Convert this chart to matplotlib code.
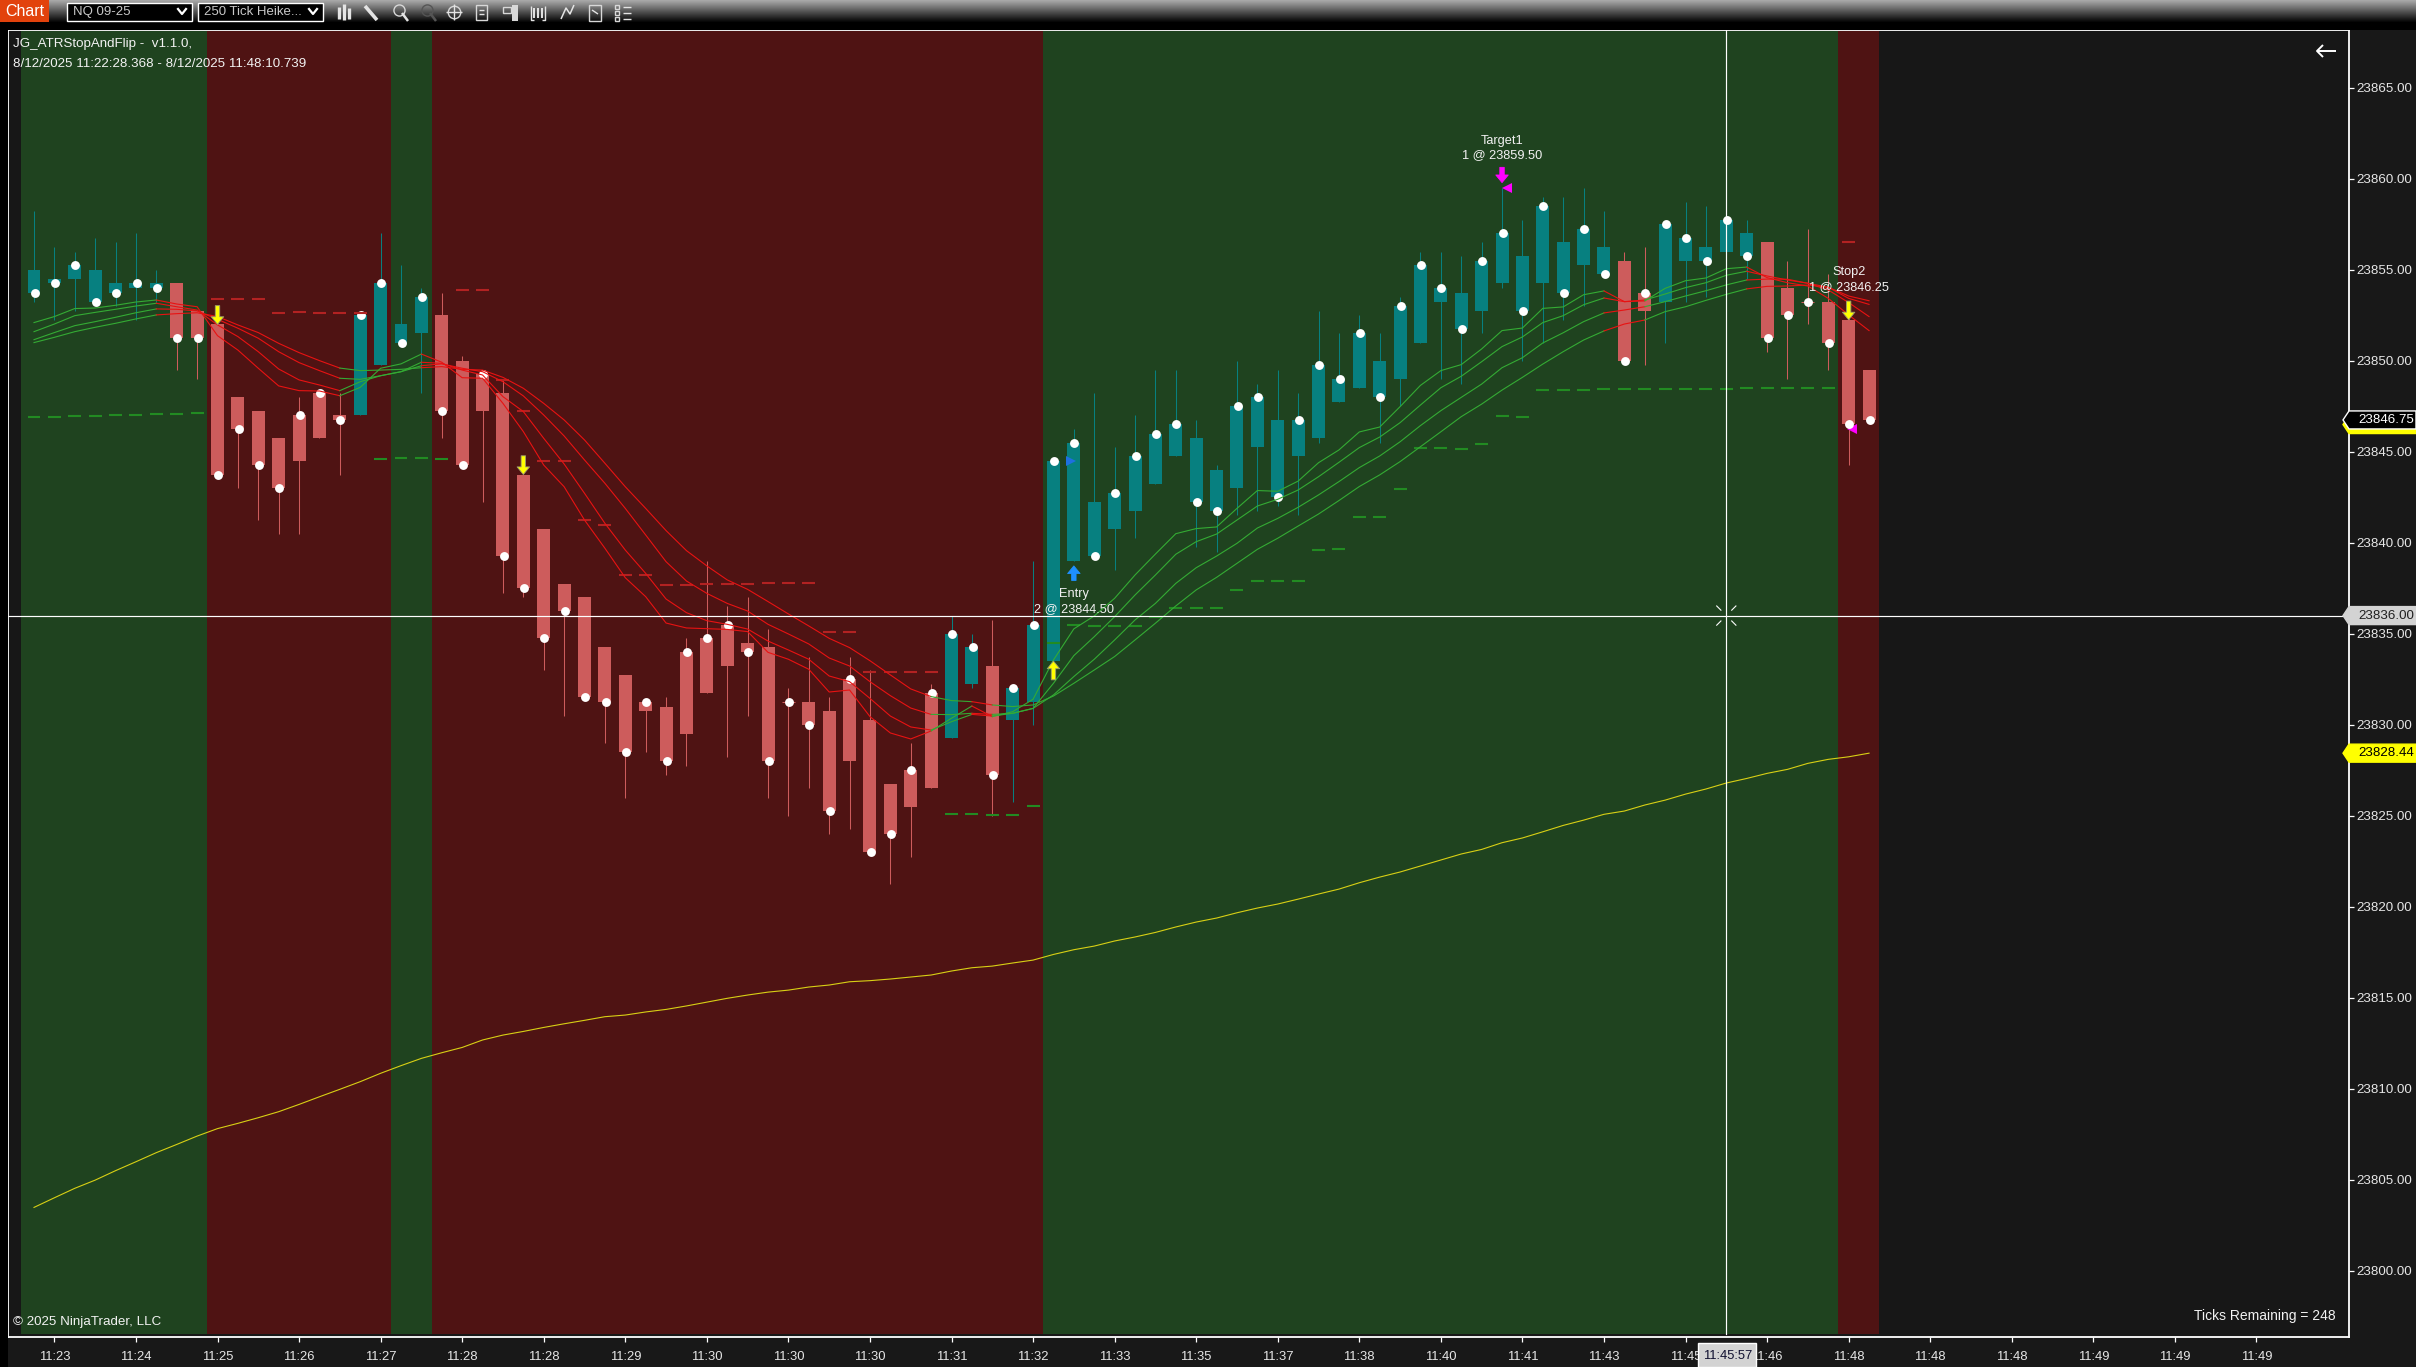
import matplotlib
matplotlib.use('Agg')
import matplotlib.pyplot as plt
import numpy as np
from matplotlib.patches import Polygon, Rectangle

plt.rcParams['font.family'] = ['Liberation Sans', 'DejaVu Sans']

# prices are stored above this base
price_base = 23800

body_top = [55.0, 54.5, 55.25, 55.0, 54.25, 54.25, 54.25, 54.25, 52.75, 52.0,
            48.0, 47.25, 45.75, 47.0, 48.25, 47.0, 52.5, 54.25, 52.0, 53.5,
            52.5, 50.0, 49.25, 48.25, 43.75, 40.75, 37.75, 37.0, 34.25, 32.75,
            31.25, 31.0, 34.0, 34.75, 35.5, 34.5, 34.25, 31.25, 31.25, 30.75,
            32.5, 30.25, 26.75, 27.5, 31.75, 35.0, 34.25, 33.25, 32.0, 35.5,
            44.5, 45.5, 42.25, 42.75, 44.75, 46.0, 46.5, 45.75, 44.0, 47.5,
            48.0, 46.75, 46.75, 49.75, 49.0, 51.5, 50.0, 53.0, 55.25, 54.0,
            53.75, 55.5, 57.0, 55.75, 58.5, 56.5, 57.25, 56.25, 55.5, 53.75,
            57.5, 56.75, 56.25, 57.75, 57.0, 56.5, 54.0, 53.25, 53.25, 52.25,
            49.5]
body_bottom = [53.75, 54.25, 54.5, 53.25, 53.75, 54.0, 54.0, 51.25, 51.25, 43.75,
               46.25, 44.25, 43.0, 44.5, 45.75, 46.75, 47.0, 49.75, 51.0, 51.5,
               47.25, 44.25, 47.25, 39.25, 37.5, 34.75, 36.25, 31.5, 31.25, 28.5,
               30.75, 28.0, 29.5, 31.75, 33.25, 34.0, 28.0, 31.25, 30.0, 25.25,
               28.0, 23.0, 24.0, 25.5, 26.5, 29.25, 32.25, 27.25, 30.25, 31.25,
               33.5, 39.0, 39.25, 40.75, 41.75, 43.25, 44.75, 42.25, 41.75, 43.0,
               45.25, 42.5, 44.75, 45.75, 47.75, 48.5, 48.0, 49.0, 51.0, 53.25,
               51.75, 52.75, 54.25, 52.75, 54.25, 53.75, 55.25, 54.75, 50.0, 52.75,
               53.25, 55.5, 55.5, 56.0, 55.75, 51.25, 52.5, 53.25, 51.0, 46.5,
               46.75]
bar_high = [58.25, 56.25, 56.0, 56.75, 56.5, 57.0, 55.0, 54.25, 52.75, 52.0,
            48.0, 47.25, 45.75, 48.0, 48.25, 48.25, 52.5, 57.0, 55.25, 54.0,
            53.75, 50.25, 49.5, 49.0, 43.75, 40.75, 37.75, 37.0, 34.25, 32.75,
            31.25, 31.5, 34.75, 39.0, 36.5, 37.0, 35.25, 32.0, 33.75, 31.5,
            33.75, 33.0, 26.75, 29.0, 32.25, 36.0, 35.0, 35.75, 32.0, 39.0,
            44.5, 46.25, 48.25, 45.25, 47.0, 49.5, 49.5, 46.75, 44.25, 50.0,
            48.75, 49.5, 48.25, 52.75, 51.5, 52.5, 51.5, 53.5, 56.0, 56.0,
            55.75, 56.5, 59.5, 57.75, 59.0, 59.0, 59.5, 58.25, 56.0, 56.25,
            57.5, 58.75, 58.5, 57.75, 57.75, 56.5, 55.5, 57.25, 54.75, 53.25,
            49.5]
bar_low = [53.25, 52.25, 52.75, 53.25, 53.0, 52.25, 53.25, 49.5, 49.0, 43.75,
           43.0, 41.25, 40.5, 40.5, 45.75, 43.75, 47.0, 49.75, 51.0, 48.25,
           45.75, 44.25, 42.25, 37.25, 37.0, 33.0, 30.5, 31.5, 29.0, 26.0,
           28.5, 27.25, 27.75, 31.75, 28.25, 30.5, 26.0, 25.0, 26.5, 24.0,
           24.25, 23.0, 21.25, 22.75, 26.5, 29.25, 32.0, 25.0, 25.75, 30.0,
           33.5, 39.0, 39.25, 38.5, 40.25, 43.25, 44.75, 39.75, 39.5, 41.5,
           41.75, 42.0, 41.5, 45.5, 47.75, 48.5, 45.5, 47.5, 51.0, 49.0,
           48.75, 51.5, 54.0, 50.0, 51.0, 52.25, 53.0, 54.75, 50.0, 49.75,
           51.0, 53.25, 53.5, 56.0, 54.5, 50.5, 49.0, 52.0, 49.5, 44.25,
           46.75]
bar_dot = [53.75, 54.25, 55.25, 53.25, 53.75, 54.25, 54.0, 51.25, 51.25, 43.75,
           46.25, 44.25, 43.0, 47.0, 48.25, 46.75, 52.5, 54.25, 51.0, 53.5,
           47.25, 44.25, 49.25, 39.25, 37.5, 34.75, 36.25, 31.5, 31.25, 28.5,
           31.25, 28.0, 34.0, 34.75, 35.5, 34.0, 28.0, 31.25, 30.0, 25.25,
           32.5, 23.0, 24.0, 27.5, 31.75, 35.0, 34.25, 27.25, 32.0, 35.5,
           44.5, 45.5, 39.25, 42.75, 44.75, 46.0, 46.5, 42.25, 41.75, 47.5,
           48.0, 42.5, 46.75, 49.75, 49.0, 51.5, 48.0, 53.0, 55.25, 54.0,
           51.75, 55.5, 57.0, 52.75, 58.5, 53.75, 57.25, 54.75, 50.0, 53.75,
           57.5, 56.75, 55.5, 57.75, 55.75, 51.25, 52.5, 53.25, 51.0, 46.5,
           46.75]
teal_bars = list(range(0, 7)) + list(range(16, 20)) + [45, 46] + list(range(48, 78)) + list(range(80, 85))

# four moving averages, fastest first
ma_1 = [52.10, 52.43, 52.87, 52.90, 53.05, 53.23, 53.34, 53.12, 52.97, 51.38,
        50.59, 49.59, 48.62, 48.36, 48.34, 48.08, 48.54, 49.59, 49.83, 50.37,
        49.92, 49.07, 49.04, 47.66, 46.11, 44.27, 43.08, 41.25, 39.70, 38.08,
        37.04, 35.59, 35.32, 35.28, 35.24, 35.12, 33.98, 33.60, 33.05, 31.80,
        31.91, 30.45, 29.55, 29.22, 29.66, 30.36, 31.03, 30.45, 30.72, 31.40,
        33.56, 35.27, 35.98, 36.95, 38.23, 39.38, 40.50, 40.78, 40.87, 41.89,
        42.87, 42.83, 43.39, 44.40, 45.10, 46.09, 46.36, 47.48, 48.65, 49.46,
        49.79, 50.65, 51.66, 51.80, 52.88, 52.96, 53.63, 53.84, 53.25, 53.29,
        53.98, 54.40, 54.55, 55.06, 55.15, 54.57, 54.29, 54.11, 53.43, 52.52,
        51.66]
ma_2 = [51.60, 52.02, 52.48, 52.66, 52.83, 53.01, 53.16, 52.97, 52.79, 51.97,
        51.33, 50.50, 49.55, 48.95, 48.67, 48.36, 48.85, 49.18, 49.40, 49.92,
        49.86, 49.49, 49.22, 48.03, 47.21, 45.74, 44.33, 42.72, 41.07, 39.60,
        38.32, 36.91, 36.16, 35.72, 35.52, 35.26, 34.60, 34.11, 33.60, 32.68,
        32.37, 31.45, 30.48, 29.88, 29.71, 30.17, 30.57, 30.48, 30.63, 30.90,
        32.28, 33.80, 34.84, 35.94, 37.13, 38.23, 39.37, 40.06, 40.48, 41.25,
        42.02, 42.39, 42.90, 43.63, 44.42, 45.23, 45.81, 46.60, 47.57, 48.52,
        49.15, 49.95, 50.78, 51.31, 52.10, 52.48, 53.08, 53.45, 53.25, 53.34,
        53.67, 54.02, 54.29, 54.70, 54.92, 54.66, 54.44, 54.26, 53.89, 53.20,
        52.43]
ma_3 = [51.16, 51.55, 51.93, 52.15, 52.39, 52.64, 52.85, 52.83, 52.74, 52.28,
        51.79, 51.24, 50.50, 49.90, 49.46, 49.04, 48.98, 49.18, 49.40, 49.73,
        49.83, 49.59, 49.40, 48.85, 48.07, 47.02, 45.87, 44.55, 43.27, 41.89,
        40.43, 38.96, 37.90, 37.22, 36.67, 36.25, 35.52, 34.99, 34.44, 33.67,
        33.23, 32.37, 31.60, 30.92, 30.57, 30.56, 30.63, 30.57, 30.63, 30.90,
        31.64, 32.65, 33.60, 34.66, 35.76, 36.67, 37.77, 38.63, 39.27, 39.97,
        40.81, 41.34, 41.95, 42.63, 43.36, 44.13, 44.77, 45.55, 46.44, 47.26,
        47.99, 48.72, 49.62, 50.17, 50.98, 51.54, 52.15, 52.63, 52.79, 52.97,
        53.25, 53.56, 53.85, 54.17, 54.44, 54.49, 54.48, 54.26, 54.04, 53.43,
        53.10]
ma_4 = [51.00, 51.29, 51.60, 51.84, 52.06, 52.30, 52.52, 52.59, 52.64, 52.43,
        51.97, 51.55, 50.96, 50.45, 50.01, 49.60, 49.46, 49.49, 49.53, 49.62,
        49.68, 49.53, 49.49, 49.09, 48.49, 47.66, 46.75, 45.65, 44.37, 43.08,
        41.89, 40.67, 39.57, 38.73, 37.96, 37.44, 36.77, 36.09, 35.43, 34.75,
        34.24, 33.52, 32.74, 31.97, 31.55, 31.33, 31.27, 31.09, 31.00, 31.09,
        31.58, 32.28, 33.01, 33.75, 34.66, 35.58, 36.53, 37.41, 38.10, 38.87,
        39.64, 40.25, 40.92, 41.58, 42.32, 43.09, 43.73, 44.46, 45.28, 46.10,
        46.93, 47.62, 48.39, 49.09, 49.82, 50.50, 51.14, 51.64, 52.02, 52.24,
        52.70, 52.97, 53.32, 53.65, 53.95, 54.09, 54.11, 54.16, 54.04, 53.56,
        53.30]
# slow yellow average
slow_ma = [3.48, 4.01, 4.53, 4.98, 5.50, 5.99, 6.49, 6.94, 7.40, 7.81,
           8.10, 8.41, 8.74, 9.14, 9.56, 9.97, 10.39, 10.85, 11.27, 11.67,
           11.98, 12.27, 12.68, 12.95, 13.15, 13.37, 13.57, 13.76, 13.96, 14.05,
           14.22, 14.36, 14.55, 14.76, 14.97, 15.15, 15.31, 15.42, 15.59, 15.70,
           15.88, 15.94, 16.03, 16.14, 16.25, 16.47, 16.65, 16.74, 16.91, 17.07,
           17.38, 17.64, 17.84, 18.12, 18.34, 18.59, 18.89, 19.16, 19.38, 19.67,
           19.93, 20.15, 20.42, 20.70, 20.97, 21.32, 21.63, 21.91, 22.24, 22.57,
           22.90, 23.15, 23.52, 23.78, 24.12, 24.47, 24.76, 25.08, 25.26, 25.59,
           25.86, 26.19, 26.47, 26.80, 27.05, 27.33, 27.55, 27.88, 28.10, 28.24,
           28.44]

# ATR stop dashes, one per bar
long_stop_bars = list(range(0, 9)) + [17, 18, 19, 20] + list(range(45, 89))
long_stop = [46.9, 46.9, 46.97, 46.97, 47.02, 47.02, 47.08, 47.08, 47.13,
             44.60, 44.66, 44.66, 44.60,
             25.10, 25.10, 25.04, 25.04, 25.54, 34.49, 35.48, 35.43, 35.43, 35.43,
             35.92, 36.42, 36.42, 36.42, 37.41, 37.90, 37.90, 37.90, 39.60, 39.66,
             41.42, 41.42, 42.96, 45.21, 45.21, 45.15, 45.43, 46.97, 46.93,
             48.39, 48.39, 48.39, 48.45, 48.45, 48.45, 48.45, 48.45, 48.45, 48.45,
             48.50, 48.50, 48.50, 48.50, 48.50]
short_stop_bars = list(range(9, 17)) + list(range(21, 45)) + [89]
short_stop = [53.40, 53.40, 53.40, 52.63, 52.68, 52.63, 52.63, 52.63,
              53.89, 53.89, 48.95, 47.24, 44.50, 44.50, 41.25, 40.98, 38.23, 38.23,
              37.68, 37.68, 37.74, 37.74, 37.74, 37.79, 37.79, 37.79, 35.10, 35.10,
              32.90, 32.90, 32.90, 32.90,
              56.55]

# background regime and which colour the averages take, by bar
band_edges = [-0.62, 8.5, 17.5, 19.5, 49.5, 88.47, 90.5]
band_kinds = ['up', 'down', 'up', 'down', 'up', 'down']
ma_segments = [(0, 6, 'up'), (6, 15, 'down'), (15, 19, 'up'), (19, 44, 'down'), (44, 46, 'up'),
               (46, 47, 'down'), (47, 77, 'up'), (77, 79, 'down'), (79, 84, 'up'), (84, 90, 'down')]

# tick labels
time_tick_bars = list(range(1, 110, 4))
time_labels = ['11:23', '11:24', '11:25', '11:26', '11:27', '11:28', '11:28', '11:29', '11:30', '11:30',
               '11:30', '11:31', '11:32', '11:33', '11:35', '11:37', '11:38', '11:40', '11:41', '11:43',
               '11:45', '11:46', '11:48', '11:48', '11:48', '11:49', '11:49', '11:49']
price_ticks = list(range(23800, 23870, 5))

# crosshair and fills
cross_bar = 83
cross_price = 23836.0
last_price = 23846.75
stop_price = 23846.25
slow_ma_last = 23828.44
sig_down_bars = [(9, 52.0), (24, 43.75), (89, 52.25)]
sig_up_bars = [(50, 33.5)]

BG = '#181818'
GREEN_BAND = '#1f431f'
RED_BAND = '#4f1313'
TEAL = '#078080'
CANDLE_RED = '#cd5c5c'
GREEN_LINE = '#34ab34'
RED_LINE = '#e81212'
WHITE = '#f2f2f2'

W, H = 2416, 1367
fig = plt.figure(figsize=(W / 100, H / 100), dpi=100, facecolor=BG)

# chart frame in pixel units
left, right, top, bottom = 8, 2349, 30, 1337
ax = fig.add_axes([left / W, (H - bottom) / H, (right - left) / W, (bottom - top) / H], facecolor='#171717')
ax.set_xlim(-1.275, 113.54)
ax.set_ylim(23796.36, 23868.176)
for s in ['left', 'right', 'top', 'bottom']:
    ax.spines[s].set_color('white')
    ax.spines[s].set_linewidth(1.3)

for i, kind in enumerate(band_kinds):
    ax.axvspan(band_edges[i], band_edges[i + 1], ymin=0.0023, ymax=0.999, lw=0,
               color=GREEN_BAND if kind == 'up' else RED_BAND, zorder=0)

bars = np.arange(len(body_top))
top_p = price_base + np.array(body_top)
bot_p = price_base + np.array(body_bottom)
high_p = price_base + np.array(bar_high)
low_p = price_base + np.array(bar_low)
is_teal = np.isin(bars, teal_bars)
colors = np.where(is_teal, TEAL, CANDLE_RED)
bar_w = 0.637

ax.vlines(bars, low_p, high_p, colors=colors, lw=0.75, zorder=2)
ax.bar(bars, top_p - bot_p, bottom=bot_p, width=bar_w, color=colors, lw=0, zorder=2.1)
doji = top_p == bot_p
ax.hlines(top_p[doji], bars[doji] - bar_w / 2, bars[doji] + bar_w / 2, colors=CANDLE_RED, lw=0.75, zorder=2.1)
ax.plot(bars + 0.03, price_base + np.array(bar_dot), ls='', marker='o', ms=6.4, mfc='white', mec='white',
        mew=0, zorder=2.5)

# stop dashes
ax.hlines(price_base + np.array(long_stop), np.array(long_stop_bars) - bar_w / 2,
          np.array(long_stop_bars) + bar_w / 2, colors='#228b22', lw=1.5, zorder=2.7)
ax.hlines(price_base + np.array(short_stop), np.array(short_stop_bars) - bar_w / 2,
          np.array(short_stop_bars) + bar_w / 2, colors='#b22222', lw=1.5, zorder=2.7)

# averages change colour with regime
for series in [ma_4, ma_3, ma_2, ma_1]:
    prices = price_base + np.array(series)
    for start, end, kind in ma_segments:
        ax.plot(bars[start:end + 1], prices[start:end + 1], lw=0.8, zorder=3,
                color=GREEN_LINE if kind == 'up' else RED_LINE, solid_joinstyle='miter')

ax.plot(bars, price_base + np.array(slow_ma), color='#d8d015', lw=0.8, zorder=3)


def signal_arrow(bar, price, down, color, edge, length=13.5):
    off = length if down else -length
    ax.annotate('', xy=(bar, price), xytext=(0, off), textcoords='offset points', zorder=5,
                arrowprops=dict(facecolor=color, edgecolor=edge, width=3.2, headwidth=9, headlength=5.5,
                                shrink=0, lw=0.6))


for bar, price in sig_down_bars:
    signal_arrow(bar, price_base + price, True, '#ffff00', '#9a9a70')
for bar, price in sig_up_bars:
    signal_arrow(bar, price_base + price, False, '#ffff00', '#9a9a70')
signal_arrow(51, price_base + 38.73, False, '#1e90ff', '#1e90ff', length=10.5)
signal_arrow(72, price_base + 59.79, True, '#ff00ff', '#ff00ff', length=11)

# fill markers
ax.plot([50.86], [price_base + 44.5], marker='>', ms=7, mfc='#1e70e0', mew=0, ls='', zorder=5)
ax.plot([72.25], [price_base + 59.5], marker='<', ms=7, mfc='#ff00ff', mew=0, ls='', zorder=5)
ax.plot([89.15], [price_base + 46.25], marker='<', ms=7, mfc='#ff00ff', mew=0, ls='', zorder=2)

# trade labels
for bar, y1, y2, name, fill in [(72, 62.08, 61.3, 'Target1', '1 @ 23859.50'),
                                (51, 37.2, 36.37, 'Entry', '2 @ 23844.50'),
                                (89, 54.88, 54.06, 'Stop2', '1 @ 23846.25')]:
    ax.text(bar, price_base + y1, name, color=WHITE, fontsize=9.2, ha='center', va='center', zorder=6)
    ax.text(bar, price_base + y2, fill, color=WHITE, fontsize=9.2, ha='center', va='center', zorder=6)

# crosshair
ax.axvline(cross_bar, ymin=0.0023, color='white', lw=0.85, zorder=4)
ax.axhline(cross_price, color='white', lw=0.85, zorder=4)

ax.set_xticks(time_tick_bars)
ax.set_xticklabels(time_labels)
ax.yaxis.tick_right()
ax.set_yticks(price_ticks)
ax.set_yticklabels([f'{p:.2f}' for p in price_ticks])
ax.tick_params(axis='x', colors='white', labelcolor='#e6e6e6', length=3.6, width=0.9, pad=6.5, labelsize=9.4)
ax.tick_params(axis='y', colors='white', labelcolor='#e6e6e6', length=3.6, width=0.9, pad=2, labelsize=9.6)

# overlay in pixels for window furniture
ov = fig.add_axes([0, 0, 1, 1], facecolor='none')
ov.set_xlim(0, W)
ov.set_ylim(H, 0)
ov.axis('off')


def price_px(p):
    return H - ax.transData.transform((0, p))[1]


def bar_px(b):
    return ax.transData.transform((b, 0))[0]


ov.add_patch(Rectangle((0, 0), 8, H, fc='black', lw=0, zorder=0))
ov.add_patch(Rectangle((0, 23), W, 7, fc='black', lw=0, zorder=0))

# toolbar
grad = np.linspace(0.66, 0.0, 24).reshape(-1, 1)
ov.imshow(grad, extent=(0, W, 23, 0), cmap='gray', vmin=0, vmax=1, aspect='auto', zorder=1)
ov.set_xlim(0, W)
ov.set_ylim(H, 0)
ov.add_patch(Rectangle((0, 0), 49, 22, fc='#e2420c', lw=0, zorder=2))
ov.text(25, 11.5, 'Chart', color='white', fontsize=11.5, ha='center', va='center', zorder=3)
for x0, x1, label in [(67, 192, 'NQ 09-25'), (198, 323, '250 Tick Heike...')]:
    ov.add_patch(Rectangle((x0, 3), x1 - x0, 18, fc='black', ec='white', lw=1.0, zorder=2))
    ov.text(x0 + 6, 12, label, color='#c8c8c8', fontsize=9.5, ha='left', va='center', zorder=3)
    ov.plot([x1 - 14, x1 - 10, x1 - 6], [9, 14, 9], color='white', lw=1.6, zorder=3)


def stroke(xs, ys, c='#e4e4e4', lw=1.0):
    ov.plot(xs, ys, color=c, lw=lw, zorder=3, solid_capstyle='butt')


# icons, roughly
for dx, h0, h1 in [(-5, 7, 19), (0, 4, 20), (5, 8, 19)]:
    stroke([344 + dx] * 2, [h0, h1], lw=2.4)
stroke([365, 377], [6, 20], lw=2.6)
ov.plot([399], [10], marker='o', ms=8, mfc='none', mec='#d8d8d8', zorder=3)
stroke([402, 408], [13, 21], lw=1.8)
ov.plot([427], [10], marker='o', ms=8, mfc='none', mec='#555555', zorder=3)
stroke([430, 436], [13, 21], c='#555555', lw=1.8)
ov.plot([454], [12], marker='o', ms=9, mfc='none', mec='#d8d8d8', zorder=3)
stroke([454, 454], [4, 20])
stroke([446, 462], [12, 12])
ov.add_patch(Rectangle((476, 5), 11, 15, fc='none', ec='#d8d8d8', lw=1, zorder=3))
stroke([479, 484], [10, 10])
stroke([479, 484], [14, 14])
ov.add_patch(Rectangle((512, 5), 6, 16, fc='#d8d8d8', lw=0, zorder=3))
ov.add_patch(Rectangle((503, 7), 8, 6, fc='none', ec='#d8d8d8', lw=1, zorder=3))
for dx in [-4, 0, 4]:
    stroke([538 + dx] * 2, [8, 18], lw=1.4)
stroke([531, 531, 534], [6, 20, 20])
stroke([545, 545, 542], [6, 20, 20])
stroke([561, 566, 570, 574], [19, 8, 14, 5], lw=1.1)
ov.add_patch(Rectangle((589, 5), 12, 16, fc='none', ec='#d8d8d8', lw=1, zorder=3))
stroke([592, 598], [10, 14])
for yy in [7, 13, 19]:
    ov.add_patch(Rectangle((615, yy - 2), 4, 4, fc='none', ec='#d8d8d8', lw=1, zorder=3))
    stroke([623, 631], [yy, yy])

# back arrow, top right
stroke([2317, 2336], [51, 51], c='white', lw=1.4)
stroke([2323, 2317, 2323], [45, 51, 57], c='white', lw=1.4)

# header and footer texts
ov.text(13, 44, 'JG_ATRStopAndFlip -  v1.1.0,', color=WHITE, fontsize=9.6, va='center', zorder=6)
ov.text(13, 64, '8/12/2025 11:22:28.368 - 8/12/2025 11:48:10.739', color=WHITE, fontsize=9.6, va='center', zorder=6)
ov.text(13, 1322, '\u00a9 2025 NinjaTrader, LLC', color=WHITE, fontsize=9.6, va='center', zorder=6)
ov.text(2336, 1316, 'Ticks Remaining = 248', color=WHITE, fontsize=10, ha='right', va='center', zorder=6)

# crosshair centre ticks
cx, cy = bar_px(cross_bar), price_px(cross_price)
for sx in [-1, 1]:
    for sy in [-1, 1]:
        stroke([cx + sx * 5, cx + sx * 10], [cy + sy * 5, cy + sy * 10], c='white', lw=0.8)


# price flags on the right axis
def price_flag(p, fc, ec, tc, dy=0):
    y = price_px(p) + dy
    ov.add_patch(Polygon([(2343, y), (2349, y - 9), (W, y - 9), (W, y + 9), (2349, y + 9)], closed=True,
                         fc=fc, ec=ec, lw=1, zorder=5))
    ov.text(2358, y, f'{p:.2f}', color=tc, fontsize=9.6, va='center', zorder=6)


price_flag(stop_price, '#ffff00', '#ffff00', 'black', dy=-4.5)
price_flag(last_price, 'black', 'white', 'white')
price_flag(cross_price, '#d3d3d3', '#d3d3d3', '#202020')
price_flag(slow_ma_last, '#ffff00', '#ffff00', 'black')

# crosshair time flag
ov.add_patch(Rectangle((cx - 28, 1343), 58, 24, fc='#d3d3d3', ec='white', lw=1, zorder=5))
ov.text(cx + 1, 1356, '11:45:57', color='#101030', fontsize=9.4, ha='center', va='center', zorder=6)

fig.savefig('out.png', dpi=100, facecolor=fig.get_facecolor())
